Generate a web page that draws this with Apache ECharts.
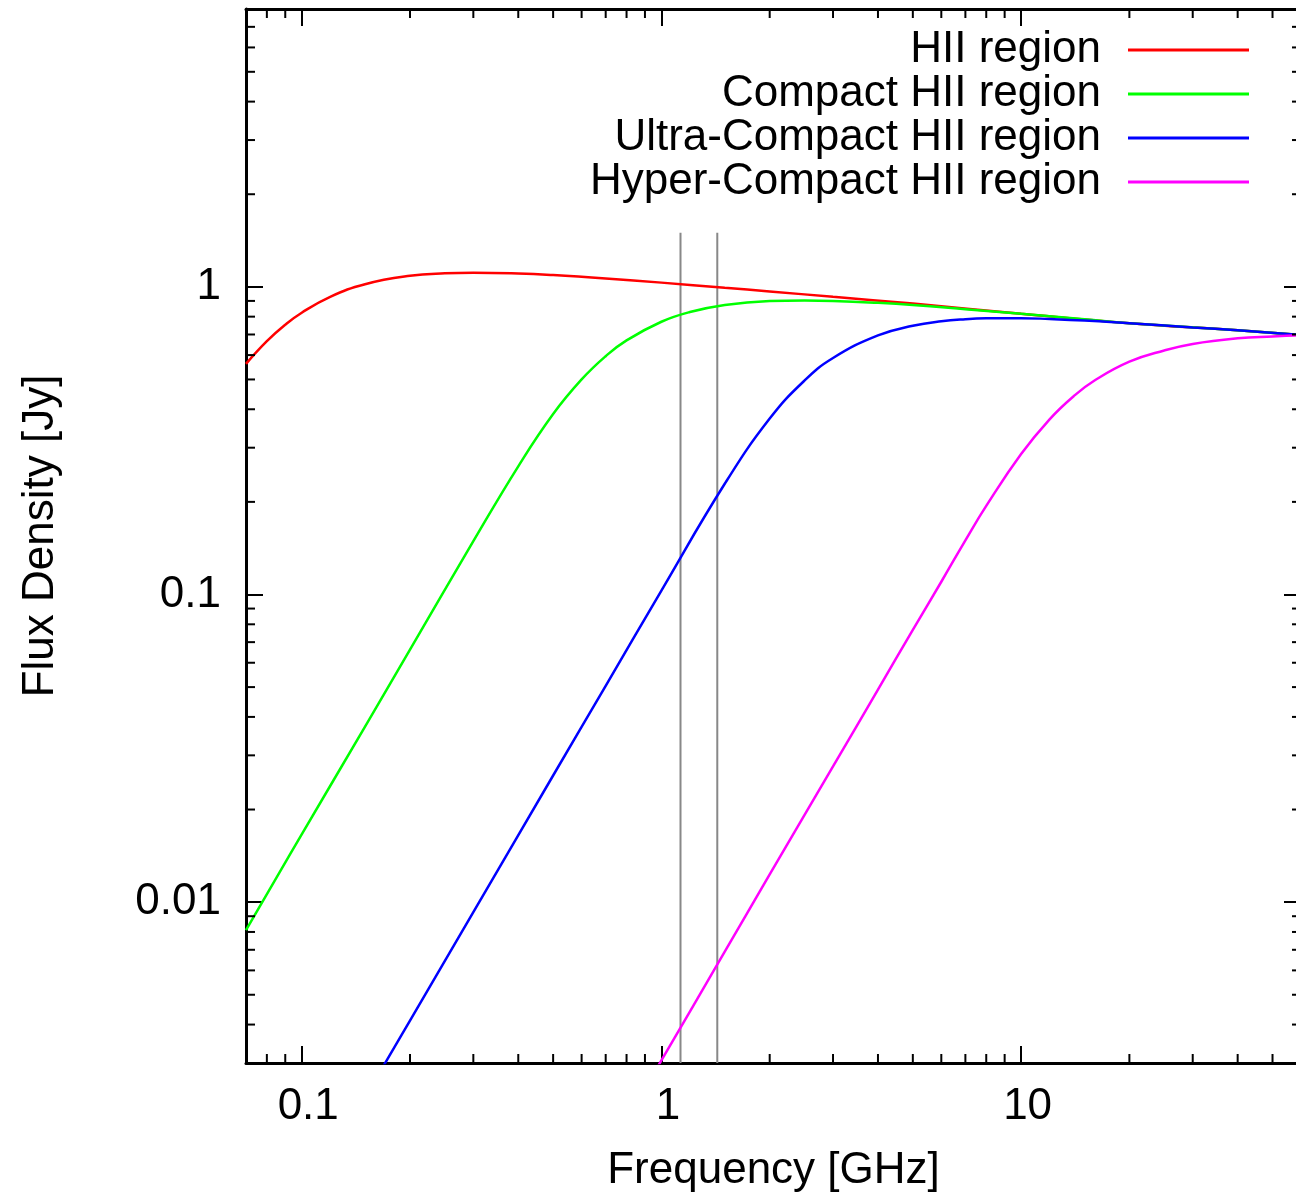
<!DOCTYPE html>
<html>
<head>
<meta charset="utf-8">
<title>Free-free spectra of HII regions</title>
<script src="https://cdn.jsdelivr.net/npm/echarts@6/dist/echarts.min.js"></script>
<style>
  html, body { margin: 0; padding: 0; overflow: hidden; background: #fff; }
  #chart { width: 1310px; height: 1198px; }
</style>
</head>
<body>
<div id="chart"></div>
<script>
// Axis ranges (GHz, Jy)
const X_MIN = 0.07, X_MAX = 60;
const Y_MIN = 0.003, Y_MAX = 8;

// Minor tick values (log decades: 2..9 of each)
const xMinorTicks = [0.08, 0.09, 0.2, 0.3, 0.4, 0.5, 0.6, 0.7, 0.8, 0.9,
  2, 3, 4, 5, 6, 7, 8, 9, 20, 30, 40, 50];
const yMinorTicks = [0.004, 0.005, 0.006, 0.007, 0.008, 0.009,
  0.02, 0.03, 0.04, 0.05, 0.06, 0.07, 0.08, 0.09,
  0.2, 0.3, 0.4, 0.5, 0.6, 0.7, 0.8, 0.9,
  2, 3, 4, 5, 6, 7];

// Observing band edges (GHz) and the height the markers reach (Jy)
const bandEdges = [1.13, 1.43];
const bandTop = 1.5;

// HII region
const hiiFreq = [0.07, 0.08, 0.09, 0.1, 0.12, 0.15, 0.2, 0.25, 0.3, 0.4, 0.5, 0.7,
  1, 1.5, 2, 3, 5, 10, 20, 40, 60];
const hiiFlux = [0.562, 0.666, 0.753, 0.824, 0.928, 1.02, 1.086, 1.107, 1.112, 1.105, 1.092, 1.065,
  1.032, 0.993, 0.966, 0.928, 0.882, 0.818, 0.762, 0.722, 0.697];

// Compact HII region
const chiiFreq = [0.07, 0.1, 0.15, 0.2, 0.3, 0.4, 0.5, 0.6, 0.7, 0.8, 1, 1.2, 1.5, 2, 2.5, 3,
  4, 5, 7, 10, 15, 20, 40, 60];
const chiiFlux = [0.00811, 0.0166, 0.0372, 0.0662, 0.149, 0.261, 0.386, 0.500, 0.595, 0.670,
  0.770, 0.828, 0.873, 0.899, 0.903, 0.900, 0.887, 0.873, 0.846, 0.817, 0.785, 0.762, 0.722, 0.697];

// Ultra-compact HII region
const uchiiFreq = [0.15, 0.2, 0.3, 0.5, 0.7, 1, 1.5, 2, 2.5, 3, 4, 5, 6, 7, 8, 10, 12, 15,
  20, 30, 40, 60];
const uchiiFlux = [0.00232, 0.00412, 0.00928, 0.0258, 0.0505, 0.103, 0.229, 0.373, 0.496, 0.587,
  0.695, 0.747, 0.773, 0.785, 0.790, 0.791, 0.786, 0.777, 0.761, 0.738, 0.722, 0.697];

// Hyper-compact HII region
const hchiiFreq = [0.8, 1, 1.5, 2, 3, 4, 5, 6, 7, 8, 10, 12, 14, 16, 20, 25, 30, 40, 50, 60];
const hchiiFlux = [0.00196, 0.00306, 0.0069, 0.0123, 0.0276, 0.0491, 0.0767, 0.110, 0.150, 0.194,
  0.286, 0.371, 0.441, 0.496, 0.571, 0.621, 0.652, 0.680, 0.690, 0.696];

const FONT = "'Liberation Sans', Arial, Helvetica, sans-serif";
const MAJOR_LEN = 17, MINOR_LEN = 9;

const zip = (xs, ys) => xs.map((x, i) => [x, ys[i]]);

function curve(name, color, xs, ys) {
  return {
    name, type: 'line', data: zip(xs, ys),
    showSymbol: false, symbol: 'none',
    smooth: 0.45,
    lineStyle: { color, width: 2.5 }, itemStyle: { color },
    z: 4, silent: true
  };
}

function bandLine(f) {
  return {
    name: 'band ' + f + ' GHz', type: 'line',
    data: [[f, Y_MIN], [f, bandTop]],
    symbol: 'none', silent: true, z: 3,
    lineStyle: { color: '#888888', width: 2 }
  };
}

// Minor ticks on both mirrored sides, placed through the axis scales
function minorTicks(values, dim) {
  return {
    name: 'minor ticks ' + dim, type: 'custom', silent: true, clip: false, z: 5,
    data: values.map(v => dim === 'x' ? [v, Y_MIN] : [X_MIN, v]),
    renderItem(params, api) {
      const style = { stroke: '#000', lineWidth: 2 };
      if (dim === 'x') {
        const v = api.value(0);
        const a = api.coord([v, Y_MIN]), b = api.coord([v, Y_MAX]);
        return { type: 'group', children: [
          { type: 'line', shape: { x1: a[0], y1: a[1], x2: a[0], y2: a[1] - MINOR_LEN }, style },
          { type: 'line', shape: { x1: b[0], y1: b[1], x2: b[0], y2: b[1] + MINOR_LEN }, style }
        ]};
      }
      const v = api.value(1);
      const a = api.coord([X_MIN, v]), b = api.coord([X_MAX, v]);
      return { type: 'group', children: [
        { type: 'line', shape: { x1: a[0], y1: a[1], x2: a[0] + MINOR_LEN, y2: a[1] }, style },
        { type: 'line', shape: { x1: b[0], y1: b[1], x2: b[0] - MINOR_LEN, y2: b[1] }, style }
      ]};
    }
  };
}

const axisLine = { show: true, onZero: false, lineStyle: { color: '#000', width: 3 } };
const majorTick = { show: true, inside: true, length: MAJOR_LEN, lineStyle: { color: '#000', width: 2 } };

const chart = echarts.init(document.getElementById('chart'), null, { renderer: 'canvas' });
chart.setOption({
  animation: false,
  backgroundColor: '#fff',
  grid: { left: 246, top: 9, right: 9, bottom: 135, containLabel: false, outerBoundsMode: 'none' },
  legend: {
    data: ['HII region', 'Compact HII region', 'Ultra-Compact HII region', 'Hyper-Compact HII region'],
    orient: 'vertical', align: 'right', right: 61, top: 28,
    icon: 'rect', itemWidth: 121, itemHeight: 3, itemGap: 0, padding: 0,
    selectedMode: false,
    textStyle: { fontFamily: FONT, fontSize: 44, color: '#000', padding: [0, 22, 0, 0] }
  },
  xAxis: [
    {
      type: 'log', logBase: 10, min: X_MIN, max: X_MAX, position: 'bottom',
      name: 'Frequency [GHz]', nameLocation: 'middle', nameGap: 86,
      nameTextStyle: { fontFamily: FONT, fontSize: 44, color: '#000' },
      axisLine, axisTick: majorTick, splitLine: { show: false },
      axisLabel: { fontFamily: FONT, fontSize: 44, color: '#000', margin: 22,
        showMinLabel: false, showMaxLabel: false, padding: [0, 0, 0, 13] }
    },
    {
      type: 'log', logBase: 10, min: X_MIN, max: X_MAX, position: 'top',
      axisLine, axisTick: majorTick, splitLine: { show: false }, axisLabel: { show: false }
    }
  ],
  yAxis: [
    {
      type: 'log', logBase: 10, min: Y_MIN, max: Y_MAX, position: 'left',
      name: 'Flux Density [Jy]', nameLocation: 'middle', nameGap: 183,
      nameTextStyle: { fontFamily: FONT, fontSize: 44, color: '#000' },
      axisLine, axisTick: majorTick, splitLine: { show: false },
      axisLabel: { fontFamily: FONT, fontSize: 44, color: '#000', margin: 25,
        showMinLabel: false, showMaxLabel: false }
    },
    {
      type: 'log', logBase: 10, min: Y_MIN, max: Y_MAX, position: 'right',
      axisLine, axisTick: majorTick, splitLine: { show: false }, axisLabel: { show: false }
    }
  ],
  series: [
    bandLine(bandEdges[0]),
    bandLine(bandEdges[1]),
    curve('HII region', '#ff0000', hiiFreq, hiiFlux),
    curve('Compact HII region', '#00ff00', chiiFreq, chiiFlux),
    curve('Ultra-Compact HII region', '#0000ff', uchiiFreq, uchiiFlux),
    curve('Hyper-Compact HII region', '#ff00ff', hchiiFreq, hchiiFlux),
    minorTicks(xMinorTicks, 'x'),
    minorTicks(yMinorTicks, 'y')
  ]
});
</script>
</body>
</html>
